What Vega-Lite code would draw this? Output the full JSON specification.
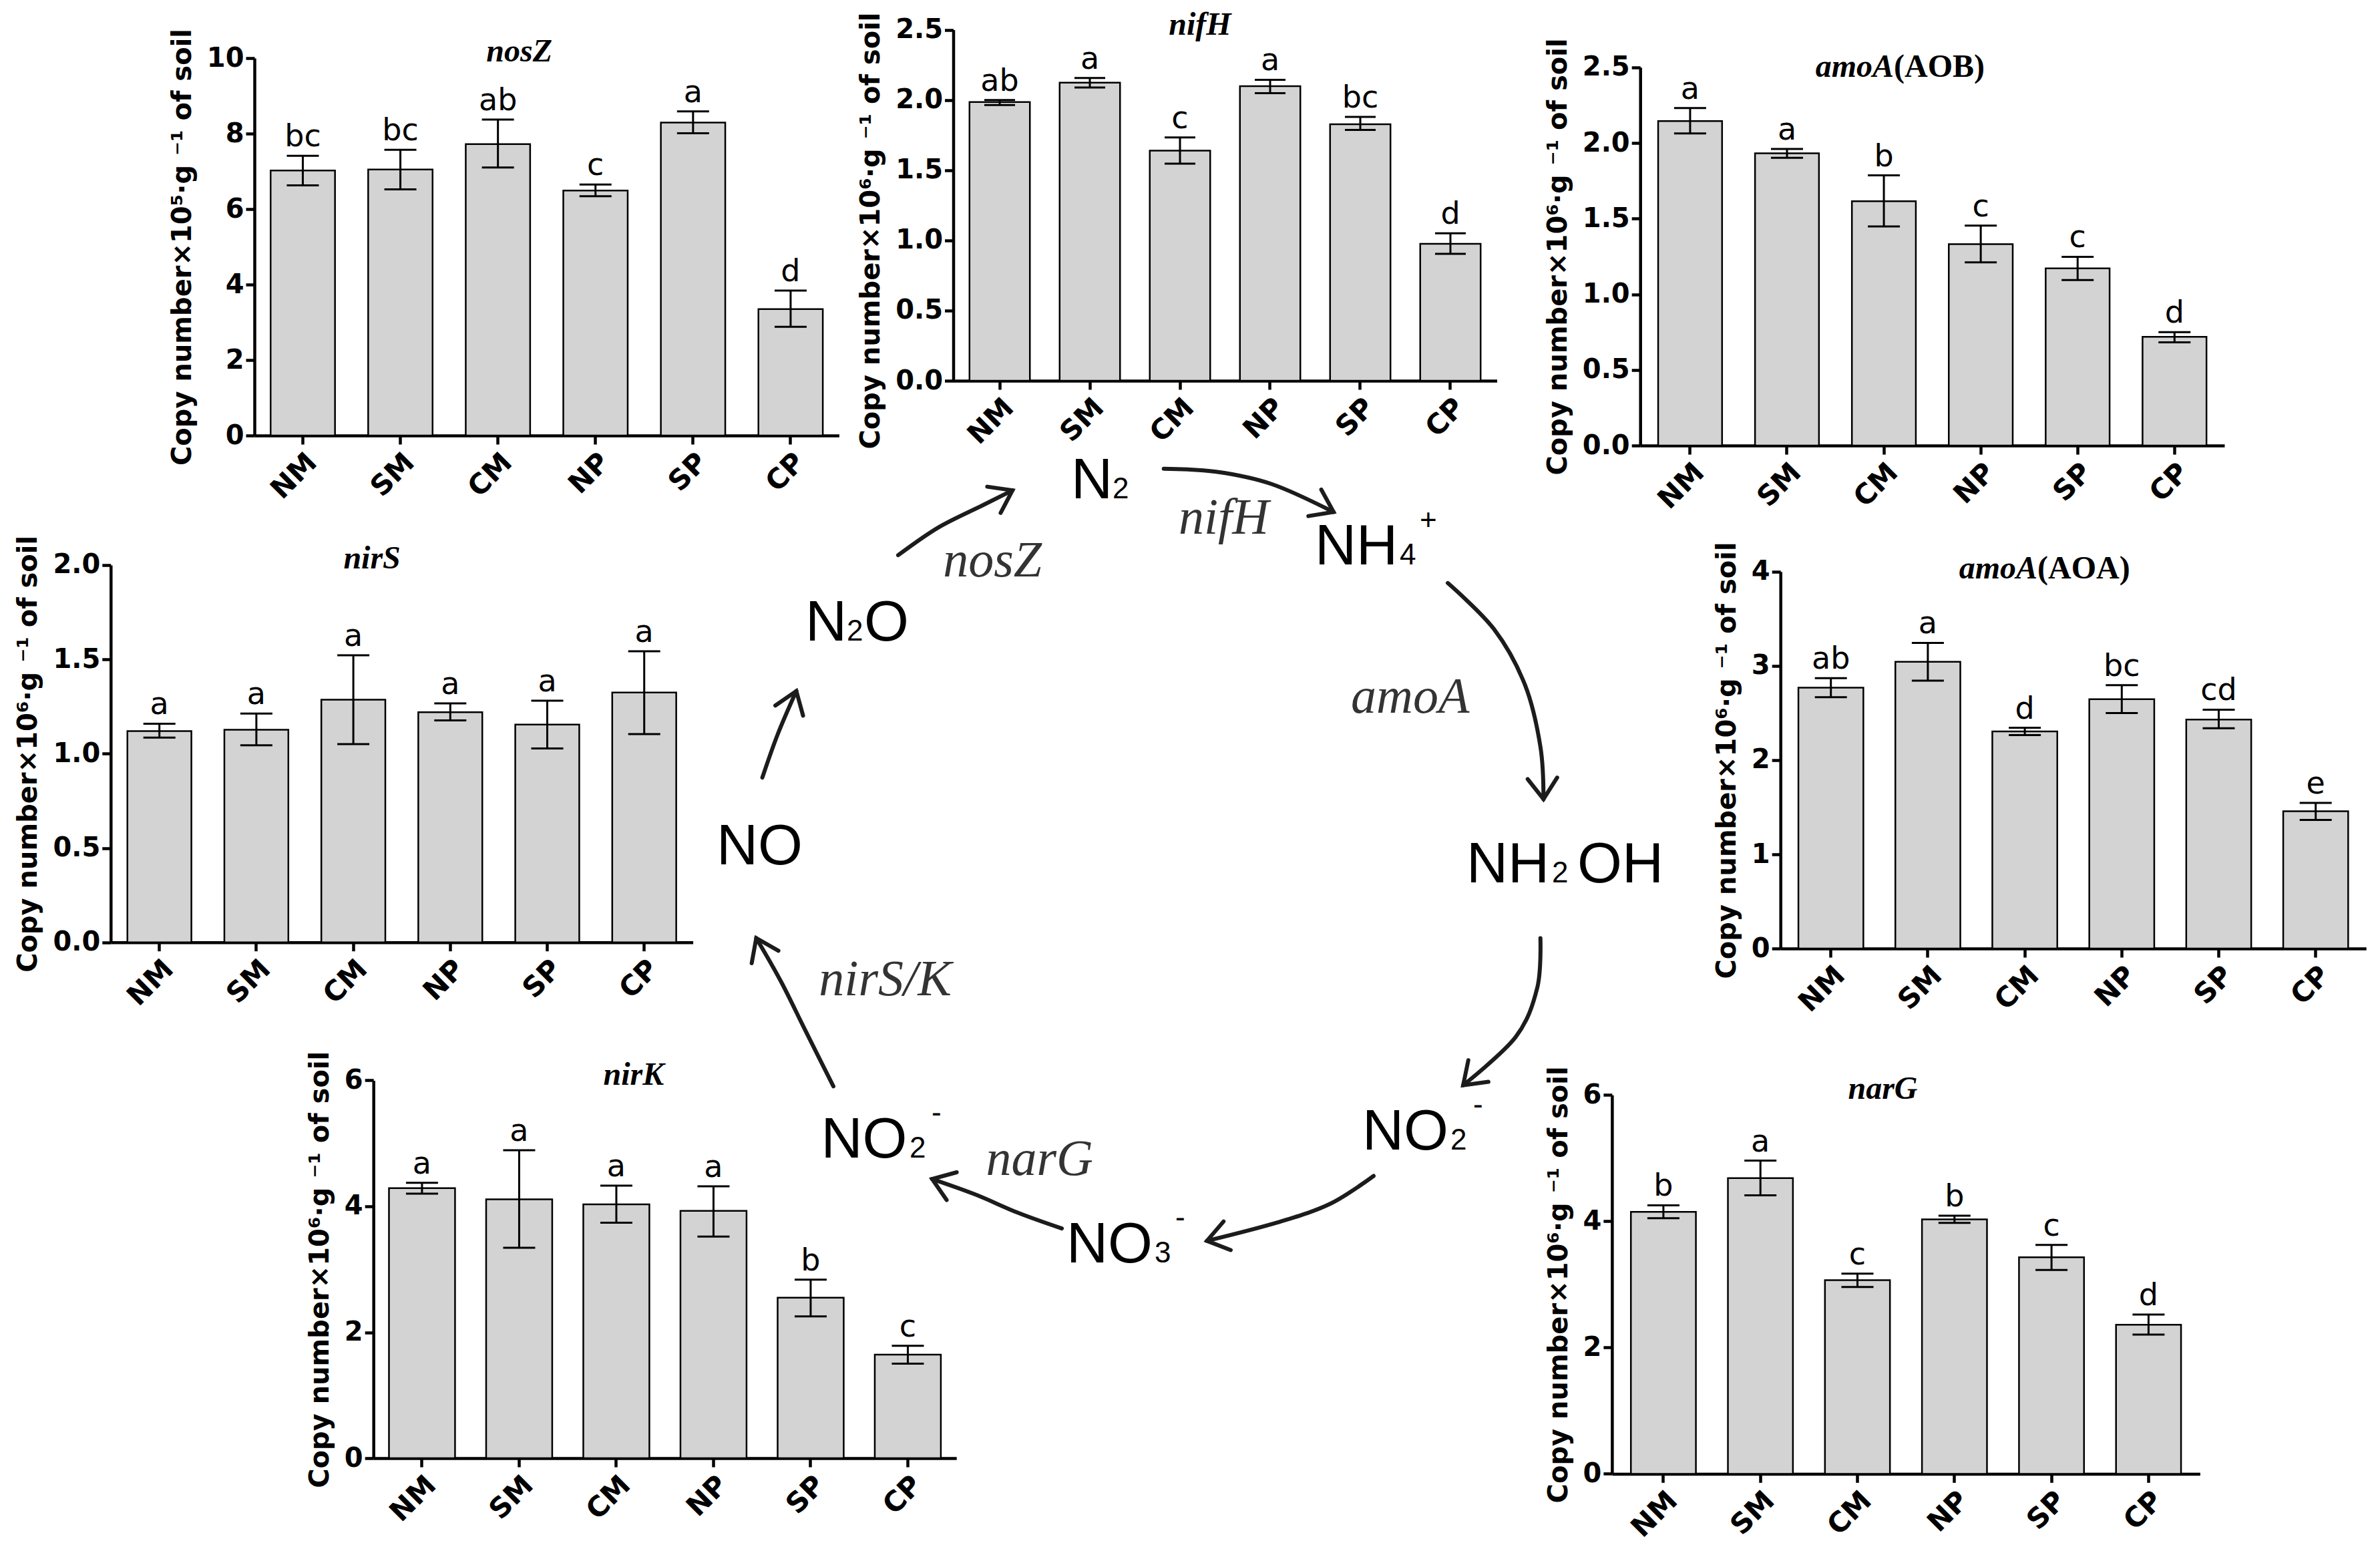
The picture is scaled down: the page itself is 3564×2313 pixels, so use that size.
{
  "$schema": "https://vega.github.io/schema/vega-lite/v6.json",
  "width": 3564,
  "height": 2313,
  "autosize": {"type": "none"},
  "padding": 0,
  "background": "white",
  "config": {
    "view": {"stroke": null},
    "axis": {"domainColor": "#000000", "domainWidth": 4.5, "tickColor": "#000000", "tickWidth": 4.5, "tickSize": 13, "labelColor": "#000000", "labelFont": "DejaVu Sans", "labelFontWeight": "bold", "labelFontSize": 40, "labelPadding": 3, "titleFont": "DejaVu Sans", "titleFontWeight": "bold", "titleFontSize": 40, "titleColor": "#000000", "titlePadding": 16, "grid": false, "zindex": 1},
    "axisX": {"labelAngle": -45, "labelFontSize": 42, "labelPadding": 6}
  },
  "datasets": {
    "nosZ": [
      {"trt": "NM", "mean": 7.02, "lo": 6.63, "hi": 7.41, "letter": "bc"},
      {"trt": "SM", "mean": 7.05, "lo": 6.52, "hi": 7.57, "letter": "bc"},
      {"trt": "CM", "mean": 7.72, "lo": 7.10, "hi": 8.37, "letter": "ab"},
      {"trt": "NP", "mean": 6.49, "lo": 6.34, "hi": 6.65, "letter": "c"},
      {"trt": "SP", "mean": 8.29, "lo": 8.01, "hi": 8.59, "letter": "a"},
      {"trt": "CP", "mean": 3.35, "lo": 2.88, "hi": 3.84, "letter": "d"}
    ],
    "nifH": [
      {"trt": "NM", "mean": 1.985, "lo": 1.964, "hi": 2.0, "letter": "ab"},
      {"trt": "SM", "mean": 2.123, "lo": 2.089, "hi": 2.157, "letter": "a"},
      {"trt": "CM", "mean": 1.639, "lo": 1.546, "hi": 1.733, "letter": "c"},
      {"trt": "NP", "mean": 2.098, "lo": 2.049, "hi": 2.144, "letter": "a"},
      {"trt": "SP", "mean": 1.827, "lo": 1.787, "hi": 1.879, "letter": "bc"},
      {"trt": "CP", "mean": 0.976, "lo": 0.904, "hi": 1.05, "letter": "d"}
    ],
    "AOB": [
      {"trt": "NM", "mean": 2.145, "lo": 2.063, "hi": 2.231, "letter": "a"},
      {"trt": "SM", "mean": 1.932, "lo": 1.902, "hi": 1.961, "letter": "a"},
      {"trt": "CM", "mean": 1.615, "lo": 1.448, "hi": 1.786, "letter": "b"},
      {"trt": "NP", "mean": 1.332, "lo": 1.211, "hi": 1.454, "letter": "c"},
      {"trt": "SP", "mean": 1.171, "lo": 1.094, "hi": 1.248, "letter": "c"},
      {"trt": "CP", "mean": 0.719, "lo": 0.683, "hi": 0.750, "letter": "d"}
    ],
    "nirS": [
      {"trt": "NM", "mean": 1.120, "lo": 1.085, "hi": 1.159, "letter": "a"},
      {"trt": "SM", "mean": 1.127, "lo": 1.044, "hi": 1.213, "letter": "a"},
      {"trt": "CM", "mean": 1.286, "lo": 1.051, "hi": 1.522, "letter": "a"},
      {"trt": "NP", "mean": 1.220, "lo": 1.176, "hi": 1.267, "letter": "a"},
      {"trt": "SP", "mean": 1.154, "lo": 1.028, "hi": 1.281, "letter": "a"},
      {"trt": "CP", "mean": 1.324, "lo": 1.104, "hi": 1.543, "letter": "a"}
    ],
    "AOA": [
      {"trt": "NM", "mean": 2.769, "lo": 2.668, "hi": 2.870, "letter": "ab"},
      {"trt": "SM", "mean": 3.043, "lo": 2.844, "hi": 3.244, "letter": "a"},
      {"trt": "CM", "mean": 2.304, "lo": 2.265, "hi": 2.343, "letter": "d"},
      {"trt": "NP", "mean": 2.646, "lo": 2.499, "hi": 2.795, "letter": "bc"},
      {"trt": "SP", "mean": 2.431, "lo": 2.339, "hi": 2.535, "letter": "cd"},
      {"trt": "CP", "mean": 1.458, "lo": 1.366, "hi": 1.546, "letter": "e"}
    ],
    "nirK": [
      {"trt": "NM", "mean": 4.289, "lo": 4.200, "hi": 4.374, "letter": "a"},
      {"trt": "SM", "mean": 4.111, "lo": 3.342, "hi": 4.890, "letter": "a"},
      {"trt": "CM", "mean": 4.032, "lo": 3.739, "hi": 4.329, "letter": "a"},
      {"trt": "NP", "mean": 3.928, "lo": 3.520, "hi": 4.319, "letter": "a"},
      {"trt": "SP", "mean": 2.549, "lo": 2.252, "hi": 2.836, "letter": "b"},
      {"trt": "CP", "mean": 1.646, "lo": 1.503, "hi": 1.785, "letter": "c"}
    ],
    "narG": [
      {"trt": "NM", "mean": 4.150, "lo": 4.048, "hi": 4.253, "letter": "b"},
      {"trt": "SM", "mean": 4.683, "lo": 4.410, "hi": 4.961, "letter": "a"},
      {"trt": "CM", "mean": 3.068, "lo": 2.960, "hi": 3.171, "letter": "c"},
      {"trt": "NP", "mean": 4.029, "lo": 3.975, "hi": 4.087, "letter": "b"},
      {"trt": "SP", "mean": 3.429, "lo": 3.229, "hi": 3.624, "letter": "c"},
      {"trt": "CP", "mean": 2.360, "lo": 2.205, "hi": 2.521, "letter": "d"}
    ],
    "titles": [
      {"gene": "nosZ", "it": "nosZ", "up": ""},
      {"gene": "nifH", "it": "nifH", "up": ""},
      {"gene": "AOB", "it": "amoA", "up": "(AOB)"},
      {"gene": "nirS", "it": "nirS", "up": ""},
      {"gene": "AOA", "it": "amoA", "up": "(AOA)"},
      {"gene": "nirK", "it": "nirK", "up": ""},
      {"gene": "narG", "it": "narG", "up": ""}
    ],
    "nodes": [
      {"p": "main", "t": "N", "u": 37.75, "v": 10.43},
      {"p": "sub", "t": "2", "u": 41.63, "v": 10.43},
      {"p": "main", "t": "NH", "u": 60.56, "v": 17.5},
      {"p": "sub", "t": "4", "u": 68.5, "v": 17.5},
      {"p": "sup", "t": "+", "u": 70.38, "v": 13.75},
      {"p": "main", "t": "NH", "u": 74.75, "v": 51.5},
      {"p": "sub", "t": "2", "u": 82.75, "v": 51.5},
      {"p": "main", "t": "OH", "u": 85.13, "v": 51.5},
      {"p": "main", "t": "NO", "u": 65.0, "v": 80.07},
      {"p": "sub", "t": "2", "u": 73.25, "v": 80.07},
      {"p": "sup", "t": "-", "u": 75.38, "v": 76.29},
      {"p": "main", "t": "NO", "u": 37.31, "v": 92.14},
      {"p": "sub", "t": "3", "u": 45.56, "v": 92.14},
      {"p": "sup", "t": "-", "u": 47.5, "v": 88.36},
      {"p": "main", "t": "NO", "u": 14.34, "v": 80.93},
      {"p": "sub", "t": "2", "u": 22.63, "v": 80.93},
      {"p": "sup", "t": "-", "u": 24.69, "v": 77.14},
      {"p": "main", "t": "NO", "u": 4.56, "v": 49.54},
      {"p": "main", "t": "N", "u": 12.88, "v": 25.64},
      {"p": "sub", "t": "2", "u": 16.75, "v": 25.64},
      {"p": "main", "t": "O", "u": 18.38, "v": 25.64}
    ],
    "genes": [
      {"t": "nosZ", "u": 30.38, "v": 18.82},
      {"t": "nifH", "u": 52.03, "v": 14.21},
      {"t": "amoA", "u": 69.48, "v": 33.36},
      {"t": "nirS/K", "u": 20.35, "v": 63.54},
      {"t": "narG", "u": 34.79, "v": 82.76}
    ],
    "arrows": [
      {"a": "A1", "i": 0, "u": 21.56, "v": 16.51},
      {"a": "A1", "i": 1, "u": 25.33, "v": 13.54},
      {"a": "A1", "i": 2, "u": 29.37, "v": 11.23},
      {"a": "A1", "i": 3, "u": 32.26, "v": 9.58, "ang": -27},
      {"a": "A2", "i": 0, "u": 46.42, "v": 7.26},
      {"a": "A2", "i": 1, "u": 51.33, "v": 7.59},
      {"a": "A2", "i": 2, "u": 56.53, "v": 8.91},
      {"a": "A2", "i": 3, "u": 62.31, "v": 11.89, "ang": 26},
      {"a": "A3", "i": 0, "u": 73.0, "v": 19.49},
      {"a": "A3", "i": 1, "u": 77.34, "v": 24.44},
      {"a": "A3", "i": 2, "u": 80.23, "v": 30.39},
      {"a": "A3", "i": 3, "u": 81.67, "v": 36.99},
      {"a": "A3", "i": 4, "u": 81.96, "v": 42.6, "ang": 87},
      {"a": "A4", "i": 0, "u": 81.67, "v": 57.46},
      {"a": "A4", "i": 1, "u": 81.38, "v": 62.75},
      {"a": "A4", "i": 2, "u": 79.36, "v": 68.03},
      {"a": "A4", "i": 3, "u": 74.44, "v": 73.19, "ang": 137},
      {"a": "A5", "i": 0, "u": 66.06, "v": 82.89},
      {"a": "A5", "i": 1, "u": 62.02, "v": 85.86},
      {"a": "A5", "i": 2, "u": 57.11, "v": 87.84},
      {"a": "A5", "i": 3, "u": 50.46, "v": 89.83, "ang": 166},
      {"a": "A6", "i": 0, "u": 36.88, "v": 88.51},
      {"a": "A6", "i": 1, "u": 32.84, "v": 86.86},
      {"a": "A6", "i": 2, "u": 28.79, "v": 84.88},
      {"a": "A6", "i": 3, "u": 24.74, "v": 83.22, "ang": 200},
      {"a": "A7", "i": 0, "u": 15.5, "v": 73.31},
      {"a": "A7", "i": 1, "u": 12.89, "v": 67.37},
      {"a": "A7", "i": 2, "u": 10.59, "v": 62.09},
      {"a": "A7", "i": 3, "u": 8.28, "v": 57.46, "ang": -115},
      {"a": "A8", "i": 0, "u": 8.85, "v": 40.29},
      {"a": "A8", "i": 1, "u": 10.29, "v": 35.66},
      {"a": "A8", "i": 2, "u": 12.03, "v": 31.04, "ang": -70}
    ]
  },
  "resolve": {"scale": {"x": "independent", "y": "independent"}, "axis": {"x": "independent", "y": "independent"}},
  "layer": [
    {
      "data": {"name": "nosZ"},
      "encoding": {"x": {"field": "trt", "type": "nominal", "scale": {"domain": ["NM","SM","CM","NP","SP","CP"], "range": [381, 1256.4], "paddingInner": 0.34, "paddingOuter": 0.166}, "axis": {"orient": "bottom", "offset": -1661, "title": null}}},
      "layer": [
        {"mark": {"type": "bar", "fill": "#d3d3d3", "stroke": "#000000", "strokeWidth": 2.5},
         "encoding": {"y": {"field": "mean", "type": "quantitative", "scale": {"domain": [0, 10], "range": [652, 87], "nice": false}, "axis": {"orient": "left", "offset": -381, "values": [0,2,4,6,8,10], "format": "d", "title": "Copy number×10⁵·g ⁻¹ of soil"}}}},
        {"mark": {"type": "rule", "color": "#000000", "strokeWidth": 3},
         "encoding": {"y": {"field": "lo", "type": "quantitative", "scale": {"domain": [0, 10], "range": [652, 87], "nice": false}, "axis": {"orient": "left", "offset": -381, "values": [0,2,4,6,8,10], "format": "d", "title": "Copy number×10⁵·g ⁻¹ of soil"}}, "y2": {"field": "hi"}}},
        {"mark": {"type": "tick", "orient": "horizontal", "color": "#000000", "size": 48, "thickness": 3, "opacity": 1},
         "encoding": {"y": {"field": "lo", "type": "quantitative", "scale": {"domain": [0, 10], "range": [652, 87], "nice": false}, "axis": {"orient": "left", "offset": -381, "values": [0,2,4,6,8,10], "format": "d", "title": "Copy number×10⁵·g ⁻¹ of soil"}}}},
        {"mark": {"type": "tick", "orient": "horizontal", "color": "#000000", "size": 48, "thickness": 3, "opacity": 1},
         "encoding": {"y": {"field": "hi", "type": "quantitative", "scale": {"domain": [0, 10], "range": [652, 87], "nice": false}, "axis": {"orient": "left", "offset": -381, "values": [0,2,4,6,8,10], "format": "d", "title": "Copy number×10⁵·g ⁻¹ of soil"}}}},
        {"mark": {"type": "text", "font": "DejaVu Sans", "fontSize": 46, "color": "#000000", "dy": -14, "baseline": "alphabetic"},
         "encoding": {"y": {"field": "hi", "type": "quantitative", "scale": {"domain": [0, 10], "range": [652, 87], "nice": false}, "axis": {"orient": "left", "offset": -381, "values": [0,2,4,6,8,10], "format": "d", "title": "Copy number×10⁵·g ⁻¹ of soil"}}, "text": {"field": "letter"}}},
        {"data": {"name": "titles"}, "transform": [{"filter": "datum.gene === 'nosZ'"}],
         "mark": {"type": "text", "font": "Liberation Serif", "fontStyle": "italic", "fontWeight": "bold", "fontSize": 48, "color": "#000000", "align": "center", "baseline": "alphabetic", "dx": 32, "dy": 5},
         "encoding": {"x": {"datum": "CM", "type": "nominal", "scale": {"domain": ["NM","SM","CM","NP","SP","CP"], "range": [381, 1256.4], "paddingInner": 0.34, "paddingOuter": 0.166}, "axis": {"orient": "bottom", "offset": -1661, "title": null}},
                      "y": {"datum": 10, "type": "quantitative", "scale": {"domain": [0, 10], "range": [652, 87], "nice": false}, "axis": {"orient": "left", "offset": -381, "values": [0,2,4,6,8,10], "format": "d", "title": "Copy number×10⁵·g ⁻¹ of soil"}},
                      "text": {"field": "it"}}}
      ]
    },
    {
      "data": {"name": "nifH"},
      "encoding": {"x": {"field": "trt", "type": "nominal", "scale": {"domain": ["NM","SM","CM","NP","SP","CP"], "range": [1427.5, 2241.5], "paddingInner": 0.33, "paddingOuter": 0.18}, "axis": {"orient": "bottom", "offset": -1743, "title": null}}},
      "layer": [
        {"mark": {"type": "bar", "fill": "#d3d3d3", "stroke": "#000000", "strokeWidth": 2.5},
         "encoding": {"y": {"field": "mean", "type": "quantitative", "scale": {"domain": [0, 2.5], "range": [570, 44.6], "nice": false}, "axis": {"orient": "left", "offset": -1427.5, "values": [0,0.5,1,1.5,2,2.5], "format": ".1f", "titleY": 345, "title": "Copy number×10⁶·g ⁻¹ of soil"}}}},
        {"mark": {"type": "rule", "color": "#000000", "strokeWidth": 3},
         "encoding": {"y": {"field": "lo", "type": "quantitative", "scale": {"domain": [0, 2.5], "range": [570, 44.6], "nice": false}, "axis": {"orient": "left", "offset": -1427.5, "values": [0,0.5,1,1.5,2,2.5], "format": ".1f", "titleY": 345, "title": "Copy number×10⁶·g ⁻¹ of soil"}}, "y2": {"field": "hi"}}},
        {"mark": {"type": "tick", "orient": "horizontal", "color": "#000000", "size": 46, "thickness": 3, "opacity": 1},
         "encoding": {"y": {"field": "lo", "type": "quantitative", "scale": {"domain": [0, 2.5], "range": [570, 44.6], "nice": false}, "axis": {"orient": "left", "offset": -1427.5, "values": [0,0.5,1,1.5,2,2.5], "format": ".1f", "titleY": 345, "title": "Copy number×10⁶·g ⁻¹ of soil"}}}},
        {"mark": {"type": "tick", "orient": "horizontal", "color": "#000000", "size": 46, "thickness": 3, "opacity": 1},
         "encoding": {"y": {"field": "hi", "type": "quantitative", "scale": {"domain": [0, 2.5], "range": [570, 44.6], "nice": false}, "axis": {"orient": "left", "offset": -1427.5, "values": [0,0.5,1,1.5,2,2.5], "format": ".1f", "titleY": 345, "title": "Copy number×10⁶·g ⁻¹ of soil"}}}},
        {"mark": {"type": "text", "font": "DejaVu Sans", "fontSize": 46, "color": "#000000", "dy": -14, "baseline": "alphabetic"},
         "encoding": {"y": {"field": "hi", "type": "quantitative", "scale": {"domain": [0, 2.5], "range": [570, 44.6], "nice": false}, "axis": {"orient": "left", "offset": -1427.5, "values": [0,0.5,1,1.5,2,2.5], "format": ".1f", "titleY": 345, "title": "Copy number×10⁶·g ⁻¹ of soil"}}, "text": {"field": "letter"}}},
        {"data": {"name": "titles"}, "transform": [{"filter": "datum.gene === 'nifH'"}],
         "mark": {"type": "text", "font": "Liberation Serif", "fontStyle": "italic", "fontWeight": "bold", "fontSize": 48, "color": "#000000", "align": "center", "baseline": "alphabetic", "dx": 30, "dy": 7},
         "encoding": {"x": {"datum": "CM", "type": "nominal", "scale": {"domain": ["NM","SM","CM","NP","SP","CP"], "range": [1427.5, 2241.5], "paddingInner": 0.33, "paddingOuter": 0.18}, "axis": {"orient": "bottom", "offset": -1743, "title": null}},
                      "y": {"datum": 2.5, "type": "quantitative", "scale": {"domain": [0, 2.5], "range": [570, 44.6], "nice": false}, "axis": {"orient": "left", "offset": -1427.5, "values": [0,0.5,1,1.5,2,2.5], "format": ".1f", "titleY": 345, "title": "Copy number×10⁶·g ⁻¹ of soil"}},
                      "text": {"field": "it"}}}
      ]
    },
    {
      "data": {"name": "AOB"},
      "encoding": {"x": {"field": "trt", "type": "nominal", "scale": {"domain": ["NM","SM","CM","NP","SP","CP"], "range": [2456.2, 3331], "paddingInner": 0.34, "paddingOuter": 0.185}, "axis": {"orient": "bottom", "offset": -1645.9, "title": null}}},
      "layer": [
        {"mark": {"type": "bar", "fill": "#d3d3d3", "stroke": "#000000", "strokeWidth": 2.5},
         "encoding": {"y": {"field": "mean", "type": "quantitative", "scale": {"domain": [0, 2.5], "range": [667.1, 100.8], "nice": false}, "axis": {"orient": "left", "offset": -2456.2, "values": [0,0.5,1,1.5,2,2.5], "format": ".1f", "title": "Copy number×10⁶·g ⁻¹ of soil"}}}},
        {"mark": {"type": "rule", "color": "#000000", "strokeWidth": 3},
         "encoding": {"y": {"field": "lo", "type": "quantitative", "scale": {"domain": [0, 2.5], "range": [667.1, 100.8], "nice": false}, "axis": {"orient": "left", "offset": -2456.2, "values": [0,0.5,1,1.5,2,2.5], "format": ".1f", "title": "Copy number×10⁶·g ⁻¹ of soil"}}, "y2": {"field": "hi"}}},
        {"mark": {"type": "tick", "orient": "horizontal", "color": "#000000", "size": 48, "thickness": 3, "opacity": 1},
         "encoding": {"y": {"field": "lo", "type": "quantitative", "scale": {"domain": [0, 2.5], "range": [667.1, 100.8], "nice": false}, "axis": {"orient": "left", "offset": -2456.2, "values": [0,0.5,1,1.5,2,2.5], "format": ".1f", "title": "Copy number×10⁶·g ⁻¹ of soil"}}}},
        {"mark": {"type": "tick", "orient": "horizontal", "color": "#000000", "size": 48, "thickness": 3, "opacity": 1},
         "encoding": {"y": {"field": "hi", "type": "quantitative", "scale": {"domain": [0, 2.5], "range": [667.1, 100.8], "nice": false}, "axis": {"orient": "left", "offset": -2456.2, "values": [0,0.5,1,1.5,2,2.5], "format": ".1f", "title": "Copy number×10⁶·g ⁻¹ of soil"}}}},
        {"mark": {"type": "text", "font": "DejaVu Sans", "fontSize": 46, "color": "#000000", "dy": -14, "baseline": "alphabetic"},
         "encoding": {"y": {"field": "hi", "type": "quantitative", "scale": {"domain": [0, 2.5], "range": [667.1, 100.8], "nice": false}, "axis": {"orient": "left", "offset": -2456.2, "values": [0,0.5,1,1.5,2,2.5], "format": ".1f", "title": "Copy number×10⁶·g ⁻¹ of soil"}}, "text": {"field": "letter"}}},
        {"data": {"name": "titles"}, "transform": [{"filter": "datum.gene === 'AOB'"}],
         "mark": {"type": "text", "font": "Liberation Serif", "fontStyle": "italic", "fontWeight": "bold", "fontSize": 48, "color": "#000000", "align": "right", "baseline": "alphabetic", "dx": 15, "dy": 14},
         "encoding": {"x": {"datum": "CM", "type": "nominal", "scale": {"domain": ["NM","SM","CM","NP","SP","CP"], "range": [2456.2, 3331], "paddingInner": 0.34, "paddingOuter": 0.185}, "axis": {"orient": "bottom", "offset": -1645.9, "title": null}},
                      "y": {"datum": 2.5, "type": "quantitative", "scale": {"domain": [0, 2.5], "range": [667.1, 100.8], "nice": false}, "axis": {"orient": "left", "offset": -2456.2, "values": [0,0.5,1,1.5,2,2.5], "format": ".1f", "title": "Copy number×10⁶·g ⁻¹ of soil"}},
                      "text": {"field": "it"}}},
        {"data": {"name": "titles"}, "transform": [{"filter": "datum.gene === 'AOB'"}],
         "mark": {"type": "text", "font": "Liberation Serif", "fontStyle": "normal", "fontWeight": "bold", "fontSize": 48, "color": "#000000", "align": "left", "baseline": "alphabetic", "dx": 15, "dy": 14},
         "encoding": {"x": {"datum": "CM", "type": "nominal", "scale": {"domain": ["NM","SM","CM","NP","SP","CP"], "range": [2456.2, 3331], "paddingInner": 0.34, "paddingOuter": 0.185}, "axis": {"orient": "bottom", "offset": -1645.9, "title": null}},
                      "y": {"datum": 2.5, "type": "quantitative", "scale": {"domain": [0, 2.5], "range": [667.1, 100.8], "nice": false}, "axis": {"orient": "left", "offset": -2456.2, "values": [0,0.5,1,1.5,2,2.5], "format": ".1f", "title": "Copy number×10⁶·g ⁻¹ of soil"}},
                      "text": {"field": "up"}}}
      ]
    },
    {
      "data": {"name": "nirS"},
      "encoding": {"x": {"field": "trt", "type": "nominal", "scale": {"domain": ["NM","SM","CM","NP","SP","CP"], "range": [165.8, 1037.6], "paddingInner": 0.34, "paddingOuter": 0.172}, "axis": {"orient": "bottom", "offset": -902.3, "title": null}}},
      "layer": [
        {"mark": {"type": "bar", "fill": "#d3d3d3", "stroke": "#000000", "strokeWidth": 2.5},
         "encoding": {"y": {"field": "mean", "type": "quantitative", "scale": {"domain": [0, 2], "range": [1410.7, 845.9], "nice": false}, "axis": {"orient": "left", "offset": -165.8, "values": [0,0.5,1,1.5,2], "format": ".1f", "title": "Copy number×10⁶·g ⁻¹ of soil"}}}},
        {"mark": {"type": "rule", "color": "#000000", "strokeWidth": 3},
         "encoding": {"y": {"field": "lo", "type": "quantitative", "scale": {"domain": [0, 2], "range": [1410.7, 845.9], "nice": false}, "axis": {"orient": "left", "offset": -165.8, "values": [0,0.5,1,1.5,2], "format": ".1f", "title": "Copy number×10⁶·g ⁻¹ of soil"}}, "y2": {"field": "hi"}}},
        {"mark": {"type": "tick", "orient": "horizontal", "color": "#000000", "size": 48, "thickness": 3, "opacity": 1},
         "encoding": {"y": {"field": "lo", "type": "quantitative", "scale": {"domain": [0, 2], "range": [1410.7, 845.9], "nice": false}, "axis": {"orient": "left", "offset": -165.8, "values": [0,0.5,1,1.5,2], "format": ".1f", "title": "Copy number×10⁶·g ⁻¹ of soil"}}}},
        {"mark": {"type": "tick", "orient": "horizontal", "color": "#000000", "size": 48, "thickness": 3, "opacity": 1},
         "encoding": {"y": {"field": "hi", "type": "quantitative", "scale": {"domain": [0, 2], "range": [1410.7, 845.9], "nice": false}, "axis": {"orient": "left", "offset": -165.8, "values": [0,0.5,1,1.5,2], "format": ".1f", "title": "Copy number×10⁶·g ⁻¹ of soil"}}}},
        {"mark": {"type": "text", "font": "DejaVu Sans", "fontSize": 46, "color": "#000000", "dy": -14, "baseline": "alphabetic"},
         "encoding": {"y": {"field": "hi", "type": "quantitative", "scale": {"domain": [0, 2], "range": [1410.7, 845.9], "nice": false}, "axis": {"orient": "left", "offset": -165.8, "values": [0,0.5,1,1.5,2], "format": ".1f", "title": "Copy number×10⁶·g ⁻¹ of soil"}}, "text": {"field": "letter"}}},
        {"data": {"name": "titles"}, "transform": [{"filter": "datum.gene === 'nirS'"}],
         "mark": {"type": "text", "font": "Liberation Serif", "fontStyle": "italic", "fontWeight": "bold", "fontSize": 48, "color": "#000000", "align": "center", "baseline": "alphabetic", "dx": 28, "dy": 5},
         "encoding": {"x": {"datum": "CM", "type": "nominal", "scale": {"domain": ["NM","SM","CM","NP","SP","CP"], "range": [165.8, 1037.6], "paddingInner": 0.34, "paddingOuter": 0.172}, "axis": {"orient": "bottom", "offset": -902.3, "title": null}},
                      "y": {"datum": 2, "type": "quantitative", "scale": {"domain": [0, 2], "range": [1410.7, 845.9], "nice": false}, "axis": {"orient": "left", "offset": -165.8, "values": [0,0.5,1,1.5,2], "format": ".1f", "title": "Copy number×10⁶·g ⁻¹ of soil"}},
                      "text": {"field": "it"}}}
      ]
    },
    {
      "data": {"name": "AOA"},
      "encoding": {"x": {"field": "trt", "type": "nominal", "scale": {"domain": ["NM","SM","CM","NP","SP","CP"], "range": [2666.2, 3543.2], "paddingInner": 0.33, "paddingOuter": 0.185}, "axis": {"orient": "bottom", "offset": -892.9, "title": null}}},
      "layer": [
        {"mark": {"type": "bar", "fill": "#d3d3d3", "stroke": "#000000", "strokeWidth": 2.5},
         "encoding": {"y": {"field": "mean", "type": "quantitative", "scale": {"domain": [0, 4], "range": [1420.1, 855.8], "nice": false}, "axis": {"orient": "left", "offset": -2666.2, "values": [0,1,2,3,4], "format": "d", "title": "Copy number×10⁶·g ⁻¹ of soil"}}}},
        {"mark": {"type": "rule", "color": "#000000", "strokeWidth": 3},
         "encoding": {"y": {"field": "lo", "type": "quantitative", "scale": {"domain": [0, 4], "range": [1420.1, 855.8], "nice": false}, "axis": {"orient": "left", "offset": -2666.2, "values": [0,1,2,3,4], "format": "d", "title": "Copy number×10⁶·g ⁻¹ of soil"}}, "y2": {"field": "hi"}}},
        {"mark": {"type": "tick", "orient": "horizontal", "color": "#000000", "size": 48, "thickness": 3, "opacity": 1},
         "encoding": {"y": {"field": "lo", "type": "quantitative", "scale": {"domain": [0, 4], "range": [1420.1, 855.8], "nice": false}, "axis": {"orient": "left", "offset": -2666.2, "values": [0,1,2,3,4], "format": "d", "title": "Copy number×10⁶·g ⁻¹ of soil"}}}},
        {"mark": {"type": "tick", "orient": "horizontal", "color": "#000000", "size": 48, "thickness": 3, "opacity": 1},
         "encoding": {"y": {"field": "hi", "type": "quantitative", "scale": {"domain": [0, 4], "range": [1420.1, 855.8], "nice": false}, "axis": {"orient": "left", "offset": -2666.2, "values": [0,1,2,3,4], "format": "d", "title": "Copy number×10⁶·g ⁻¹ of soil"}}}},
        {"mark": {"type": "text", "font": "DejaVu Sans", "fontSize": 46, "color": "#000000", "dy": -14, "baseline": "alphabetic"},
         "encoding": {"y": {"field": "hi", "type": "quantitative", "scale": {"domain": [0, 4], "range": [1420.1, 855.8], "nice": false}, "axis": {"orient": "left", "offset": -2666.2, "values": [0,1,2,3,4], "format": "d", "title": "Copy number×10⁶·g ⁻¹ of soil"}}, "text": {"field": "letter"}}},
        {"data": {"name": "titles"}, "transform": [{"filter": "datum.gene === 'AOA'"}],
         "mark": {"type": "text", "font": "Liberation Serif", "fontStyle": "italic", "fontWeight": "bold", "fontSize": 48, "color": "#000000", "align": "right", "baseline": "alphabetic", "dx": 19, "dy": 10},
         "encoding": {"x": {"datum": "CM", "type": "nominal", "scale": {"domain": ["NM","SM","CM","NP","SP","CP"], "range": [2666.2, 3543.2], "paddingInner": 0.33, "paddingOuter": 0.185}, "axis": {"orient": "bottom", "offset": -892.9, "title": null}},
                      "y": {"datum": 4, "type": "quantitative", "scale": {"domain": [0, 4], "range": [1420.1, 855.8], "nice": false}, "axis": {"orient": "left", "offset": -2666.2, "values": [0,1,2,3,4], "format": "d", "title": "Copy number×10⁶·g ⁻¹ of soil"}},
                      "text": {"field": "it"}}},
        {"data": {"name": "titles"}, "transform": [{"filter": "datum.gene === 'AOA'"}],
         "mark": {"type": "text", "font": "Liberation Serif", "fontStyle": "normal", "fontWeight": "bold", "fontSize": 48, "color": "#000000", "align": "left", "baseline": "alphabetic", "dx": 19, "dy": 10},
         "encoding": {"x": {"datum": "CM", "type": "nominal", "scale": {"domain": ["NM","SM","CM","NP","SP","CP"], "range": [2666.2, 3543.2], "paddingInner": 0.33, "paddingOuter": 0.185}, "axis": {"orient": "bottom", "offset": -892.9, "title": null}},
                      "y": {"datum": 4, "type": "quantitative", "scale": {"domain": [0, 4], "range": [1420.1, 855.8], "nice": false}, "axis": {"orient": "left", "offset": -2666.2, "values": [0,1,2,3,4], "format": "d", "title": "Copy number×10⁶·g ⁻¹ of soil"}},
                      "text": {"field": "up"}}}
      ]
    },
    {
      "data": {"name": "nirK"},
      "encoding": {"x": {"field": "trt", "type": "nominal", "scale": {"domain": ["NM","SM","CM","NP","SP","CP"], "range": [559.2, 1432.2], "paddingInner": 0.32, "paddingOuter": 0.16}, "axis": {"orient": "bottom", "offset": -129.9, "title": null}}},
      "layer": [
        {"mark": {"type": "bar", "fill": "#d3d3d3", "stroke": "#000000", "strokeWidth": 2.5},
         "encoding": {"y": {"field": "mean", "type": "quantitative", "scale": {"domain": [0, 6], "range": [2183.1, 1617.4], "nice": false}, "axis": {"orient": "left", "offset": -559.2, "values": [0,2,4,6], "format": "d", "title": "Copy number×10⁶·g ⁻¹ of soil"}}}},
        {"mark": {"type": "rule", "color": "#000000", "strokeWidth": 3},
         "encoding": {"y": {"field": "lo", "type": "quantitative", "scale": {"domain": [0, 6], "range": [2183.1, 1617.4], "nice": false}, "axis": {"orient": "left", "offset": -559.2, "values": [0,2,4,6], "format": "d", "title": "Copy number×10⁶·g ⁻¹ of soil"}}, "y2": {"field": "hi"}}},
        {"mark": {"type": "tick", "orient": "horizontal", "color": "#000000", "size": 48, "thickness": 3, "opacity": 1},
         "encoding": {"y": {"field": "lo", "type": "quantitative", "scale": {"domain": [0, 6], "range": [2183.1, 1617.4], "nice": false}, "axis": {"orient": "left", "offset": -559.2, "values": [0,2,4,6], "format": "d", "title": "Copy number×10⁶·g ⁻¹ of soil"}}}},
        {"mark": {"type": "tick", "orient": "horizontal", "color": "#000000", "size": 48, "thickness": 3, "opacity": 1},
         "encoding": {"y": {"field": "hi", "type": "quantitative", "scale": {"domain": [0, 6], "range": [2183.1, 1617.4], "nice": false}, "axis": {"orient": "left", "offset": -559.2, "values": [0,2,4,6], "format": "d", "title": "Copy number×10⁶·g ⁻¹ of soil"}}}},
        {"mark": {"type": "text", "font": "DejaVu Sans", "fontSize": 46, "color": "#000000", "dy": -14, "baseline": "alphabetic"},
         "encoding": {"y": {"field": "hi", "type": "quantitative", "scale": {"domain": [0, 6], "range": [2183.1, 1617.4], "nice": false}, "axis": {"orient": "left", "offset": -559.2, "values": [0,2,4,6], "format": "d", "title": "Copy number×10⁶·g ⁻¹ of soil"}}, "text": {"field": "letter"}}},
        {"data": {"name": "titles"}, "transform": [{"filter": "datum.gene === 'nirK'"}],
         "mark": {"type": "text", "font": "Liberation Serif", "fontStyle": "italic", "fontWeight": "bold", "fontSize": 48, "color": "#000000", "align": "center", "baseline": "alphabetic", "dx": 26, "dy": 7},
         "encoding": {"x": {"datum": "CM", "type": "nominal", "scale": {"domain": ["NM","SM","CM","NP","SP","CP"], "range": [559.2, 1432.2], "paddingInner": 0.32, "paddingOuter": 0.16}, "axis": {"orient": "bottom", "offset": -129.9, "title": null}},
                      "y": {"datum": 6, "type": "quantitative", "scale": {"domain": [0, 6], "range": [2183.1, 1617.4], "nice": false}, "axis": {"orient": "left", "offset": -559.2, "values": [0,2,4,6], "format": "d", "title": "Copy number×10⁶·g ⁻¹ of soil"}},
                      "text": {"field": "it"}}}
      ]
    },
    {
      "data": {"name": "narG"},
      "encoding": {"x": {"field": "trt", "type": "nominal", "scale": {"domain": ["NM","SM","CM","NP","SP","CP"], "range": [2413.9, 3294.4], "paddingInner": 0.33, "paddingOuter": 0.195}, "axis": {"orient": "bottom", "offset": -106.6, "title": null}}},
      "layer": [
        {"mark": {"type": "bar", "fill": "#d3d3d3", "stroke": "#000000", "strokeWidth": 2.5},
         "encoding": {"y": {"field": "mean", "type": "quantitative", "scale": {"domain": [0, 6], "range": [2206.4, 1639.3], "nice": false}, "axis": {"orient": "left", "offset": -2413.9, "values": [0,2,4,6], "format": "d", "title": "Copy number×10⁶·g ⁻¹ of soil"}}}},
        {"mark": {"type": "rule", "color": "#000000", "strokeWidth": 3},
         "encoding": {"y": {"field": "lo", "type": "quantitative", "scale": {"domain": [0, 6], "range": [2206.4, 1639.3], "nice": false}, "axis": {"orient": "left", "offset": -2413.9, "values": [0,2,4,6], "format": "d", "title": "Copy number×10⁶·g ⁻¹ of soil"}}, "y2": {"field": "hi"}}},
        {"mark": {"type": "tick", "orient": "horizontal", "color": "#000000", "size": 48, "thickness": 3, "opacity": 1},
         "encoding": {"y": {"field": "lo", "type": "quantitative", "scale": {"domain": [0, 6], "range": [2206.4, 1639.3], "nice": false}, "axis": {"orient": "left", "offset": -2413.9, "values": [0,2,4,6], "format": "d", "title": "Copy number×10⁶·g ⁻¹ of soil"}}}},
        {"mark": {"type": "tick", "orient": "horizontal", "color": "#000000", "size": 48, "thickness": 3, "opacity": 1},
         "encoding": {"y": {"field": "hi", "type": "quantitative", "scale": {"domain": [0, 6], "range": [2206.4, 1639.3], "nice": false}, "axis": {"orient": "left", "offset": -2413.9, "values": [0,2,4,6], "format": "d", "title": "Copy number×10⁶·g ⁻¹ of soil"}}}},
        {"mark": {"type": "text", "font": "DejaVu Sans", "fontSize": 46, "color": "#000000", "dy": -14, "baseline": "alphabetic"},
         "encoding": {"y": {"field": "hi", "type": "quantitative", "scale": {"domain": [0, 6], "range": [2206.4, 1639.3], "nice": false}, "axis": {"orient": "left", "offset": -2413.9, "values": [0,2,4,6], "format": "d", "title": "Copy number×10⁶·g ⁻¹ of soil"}}, "text": {"field": "letter"}}},
        {"data": {"name": "titles"}, "transform": [{"filter": "datum.gene === 'narG'"}],
         "mark": {"type": "text", "font": "Liberation Serif", "fontStyle": "italic", "fontWeight": "bold", "fontSize": 48, "color": "#000000", "align": "center", "baseline": "alphabetic", "dx": 38, "dy": 6},
         "encoding": {"x": {"datum": "CM", "type": "nominal", "scale": {"domain": ["NM","SM","CM","NP","SP","CP"], "range": [2413.9, 3294.4], "paddingInner": 0.33, "paddingOuter": 0.195}, "axis": {"orient": "bottom", "offset": -106.6, "title": null}},
                      "y": {"datum": 6, "type": "quantitative", "scale": {"domain": [0, 6], "range": [2206.4, 1639.3], "nice": false}, "axis": {"orient": "left", "offset": -2413.9, "values": [0,2,4,6], "format": "d", "title": "Copy number×10⁶·g ⁻¹ of soil"}},
                      "text": {"field": "it"}}}
      ]
    },
    {
      "layer": [
        {"data": {"name": "arrows"},
         "mark": {"type": "line", "interpolate": "cardinal", "stroke": "#1c1c1c", "strokeWidth": 6, "strokeCap": "round"},
         "encoding": {"x": {"field": "u", "type": "quantitative", "scale": {"domain": [0, 100], "range": [1000, 2600], "zero": false, "nice": false}, "axis": null},
                      "y": {"field": "v", "type": "quantitative", "scale": {"domain": [0, 100], "range": [600, 2000], "zero": false, "nice": false}, "axis": null},
                      "detail": {"field": "a"}, "order": {"field": "i", "type": "quantitative"}}},
        {"data": {"name": "arrows"}, "transform": [{"filter": "isValid(datum.ang)"}],
         "mark": {"type": "point", "shape": "M -1.2 -0.85 L 0 0 L -1.2 0.85", "filled": false, "stroke": "#1c1c1c", "strokeWidth": 6, "size": 2700, "opacity": 1, "strokeJoin": "miter", "strokeCap": "round"},
         "encoding": {"x": {"field": "u", "type": "quantitative", "scale": {"domain": [0, 100], "range": [1000, 2600], "zero": false, "nice": false}, "axis": null},
                      "y": {"field": "v", "type": "quantitative", "scale": {"domain": [0, 100], "range": [600, 2000], "zero": false, "nice": false}, "axis": null},
                      "angle": {"field": "ang", "type": "quantitative", "scale": null}}},
        {"data": {"name": "nodes"}, "transform": [{"filter": "datum.p === 'main'"}],
         "mark": {"type": "text", "font": "Liberation Sans", "fontSize": 86, "color": "#000000", "align": "left", "baseline": "alphabetic"},
         "encoding": {"x": {"field": "u", "type": "quantitative", "scale": {"domain": [0, 100], "range": [1000, 2600], "zero": false, "nice": false}, "axis": null},
                      "y": {"field": "v", "type": "quantitative", "scale": {"domain": [0, 100], "range": [600, 2000], "zero": false, "nice": false}, "axis": null},
                      "text": {"field": "t"}}},
        {"data": {"name": "nodes"}, "transform": [{"filter": "datum.p !== 'main'"}],
         "mark": {"type": "text", "font": "Liberation Sans", "fontSize": 44, "color": "#000000", "align": "left", "baseline": "alphabetic"},
         "encoding": {"x": {"field": "u", "type": "quantitative", "scale": {"domain": [0, 100], "range": [1000, 2600], "zero": false, "nice": false}, "axis": null},
                      "y": {"field": "v", "type": "quantitative", "scale": {"domain": [0, 100], "range": [600, 2000], "zero": false, "nice": false}, "axis": null},
                      "text": {"field": "t"}}},
        {"data": {"name": "genes"},
         "mark": {"type": "text", "font": "Liberation Serif", "fontStyle": "italic", "fontSize": 76, "color": "#333333", "align": "center", "baseline": "alphabetic"},
         "encoding": {"x": {"field": "u", "type": "quantitative", "scale": {"domain": [0, 100], "range": [1000, 2600], "zero": false, "nice": false}, "axis": null},
                      "y": {"field": "v", "type": "quantitative", "scale": {"domain": [0, 100], "range": [600, 2000], "zero": false, "nice": false}, "axis": null},
                      "text": {"field": "t"}}}
      ]
    }
  ]
}
